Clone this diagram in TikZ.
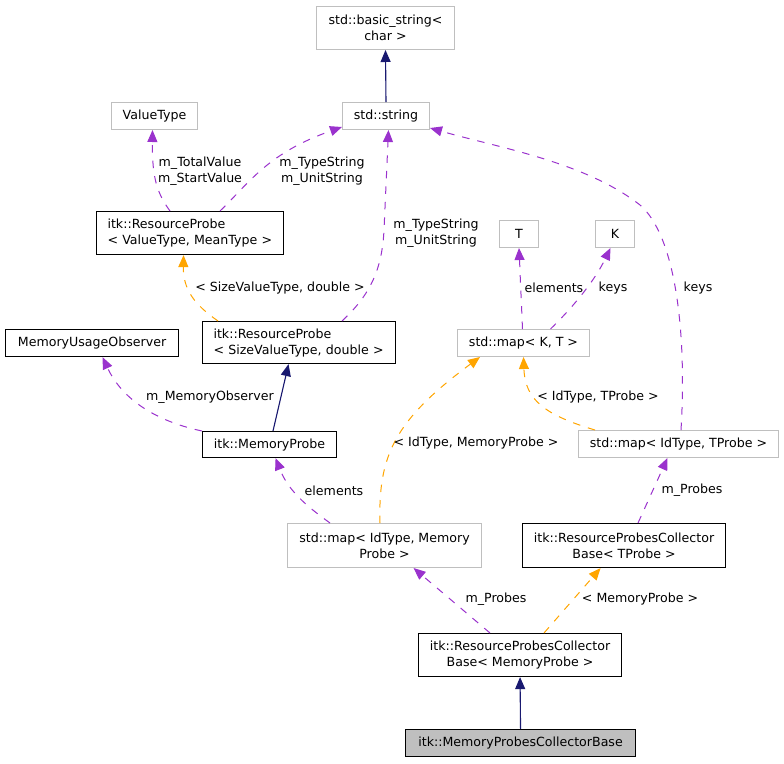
\documentclass[tikz,border=0pt]{standalone}
\usepackage{fontspec}
\setmainfont{DejaVu Sans}
\usepackage{xcolor}
\usepackage{tikz}
\usetikzlibrary{arrows.meta,calc}
\definecolor{doxNavy}{RGB}{25,25,112}
\definecolor{doxPurple}{RGB}{154,50,205}
\definecolor{doxOrange}{RGB}{255,165,0}
\definecolor{doxGray}{RGB}{191,191,191}

\begin{document}
\begin{tikzpicture}[
    x=1pt, y=-1pt,
    box/.style={rectangle, anchor=north west, inner sep=0pt, align=center,
        font=\fontsize{12.6pt}{16pt}\selectfont},
    cls/.style={box, draw=black, line width=1.1pt},
    ext/.style={box, draw=doxGray, line width=1pt},
    lbl/.style={inner sep=0pt, align=center, font=\fontsize{12.6pt}{16pt}\selectfont},
    tip/.style={-{Triangle[length=12pt, width=10pt]}},
    inh/.style={tip, draw=doxNavy, fill=doxNavy, line width=1.1pt},
    use/.style={tip, draw=doxPurple, line width=1pt, dash pattern=on 7.5pt off 8pt},
    tpl/.style={tip, draw=doxOrange, line width=1pt, dash pattern=on 7.5pt off 8pt}
]
    \useasboundingbox (0,0) rectangle (784,763);

    % Top: strings and value type
    \node[ext, minimum width=138pt, minimum height=43pt] (bs) at (316,6) {std::basic\_string<\\char >};
    \node[ext, minimum width=87pt, minimum height=27pt] (str) at (342,102) {std::string};
    \node[ext, minimum width=86pt, minimum height=27pt] (vt) at (111,102) {ValueType};

    % Resource probes
    \node[cls, minimum width=187pt, minimum height=43pt, text width=165pt, align=left] (rpvm) at (96,211) {itk::ResourceProbe\\< ValueType, MeanType >};
    \node[cls, minimum width=193pt, minimum height=42pt, text width=171pt, align=left] (rpsd) at (202,321) {itk::ResourceProbe\\< SizeValueType, double >};
    \node[cls, minimum width=173pt, minimum height=27pt] (muo) at (5,329) {MemoryUsageObserver};
    \node[cls, minimum width=134pt, minimum height=26pt] (mp) at (202,431) {itk::MemoryProbe};

    % Maps
    \node[ext, minimum width=39pt, minimum height=27pt] (T) at (499,220) {T};
    \node[ext, minimum width=39pt, minimum height=27pt] (K) at (595,220) {K};
    \node[ext, minimum width=132pt, minimum height=27pt] (mapkt) at (457,329) {std::map< K, T >};
    \node[ext, minimum width=200pt, minimum height=27pt] (mapit) at (578,430) {std::map< IdType, TProbe >};
    \node[ext, minimum width=194pt, minimum height=44pt] (mapim) at (287,523) {std::map< IdType, Memory\\Probe >};

    % Collectors
    \node[cls, minimum width=203pt, minimum height=44pt] (rpcbt) at (522,523) {itk::ResourceProbesCollector\\Base< TProbe >};
    \node[cls, minimum width=203pt, minimum height=43pt] (rpcbm) at (418,633) {itk::ResourceProbesCollector\\Base< MemoryProbe >};
    \node[cls, fill=doxGray, minimum width=230pt, minimum height=27pt] (mpcb) at (405,729) {itk::MemoryProbesCollectorBase};

    % Inheritance
    \draw[inh] (str.north) -- (bs.south);
    \draw[inh] ([xshift=71pt]mp.north west) -- ([xshift=-10.5pt]rpsd.south);
    \draw[inh] (mpcb.north) -- (rpcbm.south);

    % Usage
    \draw[use] ([xshift=124pt]rpvm.north west) .. controls (250,182) and (268,153) .. ([yshift=3pt]str.south west);
    \draw[use] ([xshift=74pt]rpvm.north west) .. controls (157,193) and (152,178) .. ([xshift=-2pt]vt.south);
    \draw[use] ([xshift=140pt]rpsd.north west) .. controls (370,295) and (382,270) .. (384,230) -- ([xshift=2.5pt]str.south);
    \draw[use] (mp.north west) .. controls (150,420) and (120,395) .. ([xshift=10.5pt]muo.south);
    \draw[use] ([xshift=43pt]mapim.north west) .. controls (305,505) and (288,490) .. ([xshift=6pt]mp.south);
    \draw[use] ([xshift=-1pt]mapkt.north) -- (T.south);
    \draw[use] ([xshift=27pt]mapkt.north) .. controls (575,305) and (595,280) .. ([xshift=-4.5pt]K.south);
    \draw[use] ([xshift=103pt]mapit.north west) .. controls (687,330) and (675,235) .. (640,205) .. controls (585,162) and (500,148) .. ([yshift=2pt]str.south east);
    \draw[use] ([xshift=116pt]rpcbt.north west) -- ([xshift=-11pt]mapit.south);
    \draw[use] ([xshift=72pt]rpcbm.north west) -- ([xshift=29pt]mapim.south);

    % Template instances
    \draw[tpl] ([xshift=16pt]rpsd.north west) .. controls (195,305) and (183,290) .. ([xshift=-6.5pt]rpvm.south);
    \draw[tpl] ([xshift=93pt]mapim.north west) .. controls (378,455) and (395,420) .. ([xshift=23pt]mapkt.south west);
    \draw[tpl] ([xshift=17pt]mapit.north west) .. controls (545,415) and (525,400) .. (mapkt.south);
    \draw[tpl] ([xshift=126pt]rpcbm.north west) -- ([xshift=-23.5pt]rpcbt.south);

    % Labels
    \node[lbl] (tsu1) at (322,171) {m\_TypeString\\m\_UnitString};
    \node[lbl] (tval) at (200,171) {m\_TotalValue\\m\_StartValue};
    \node[lbl] (tsu2) at (436,233) {m\_TypeString\\m\_UnitString};
    \node[lbl] (svd) at (280,288) {< SizeValueType, double >};
    \node[lbl] (obs) at (210,397) {m\_MemoryObserver};
    \node[lbl] (elem1) at (334,491) {elements};
    \node[lbl] (idmp) at (476,443) {< IdType, MemoryProbe >};
    \node[lbl] (elem2) at (554,288) {elements};
    \node[lbl] (keys1) at (613,288) {keys};
    \node[lbl] (idtp) at (598,397) {< IdType, TProbe >};
    \node[lbl] (keys2) at (698,288) {keys};
    \node[lbl] (prb1) at (692,490) {m\_Probes};
    \node[lbl] (prb2) at (496,599) {m\_Probes};
    \node[lbl] (mprb) at (640,599) {< MemoryProbe >};
\end{tikzpicture}
\end{document}
